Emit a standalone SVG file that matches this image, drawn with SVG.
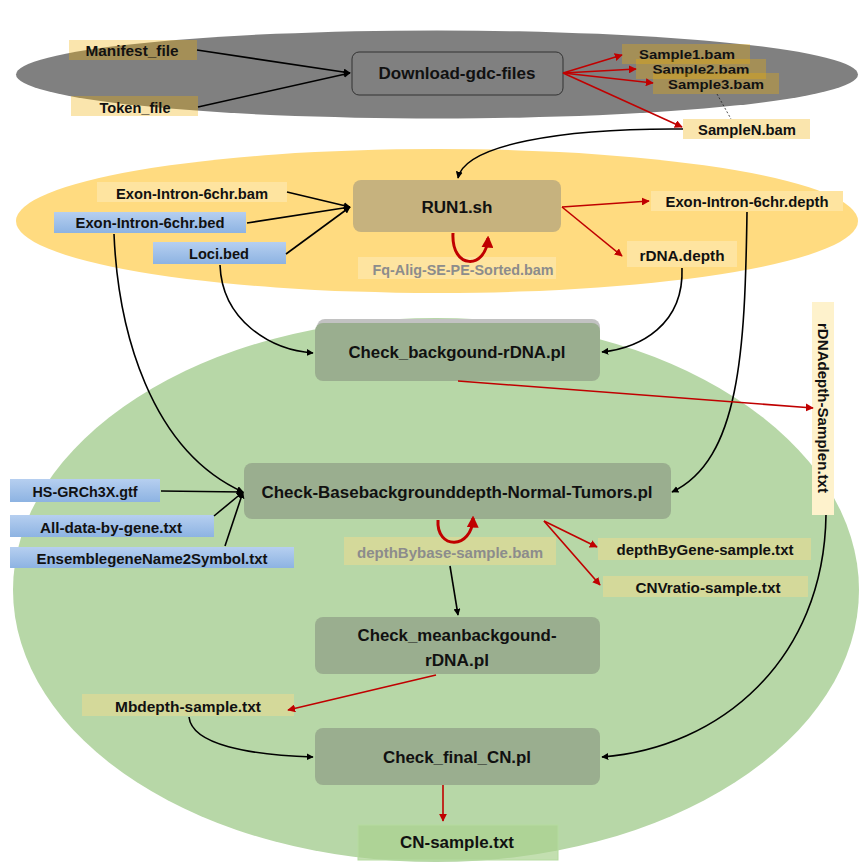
<svg xmlns="http://www.w3.org/2000/svg" width="867" height="867" viewBox="0 0 867 867">
<defs>
<marker id="ab" viewBox="0 0 10 10" refX="9" refY="5" markerWidth="7" markerHeight="7" markerUnits="userSpaceOnUse" orient="auto"><path d="M0,0 L10,5 L0,10 z" fill="#000"/></marker>
<marker id="ar" viewBox="0 0 10 10" refX="9" refY="5" markerWidth="8" markerHeight="8" markerUnits="userSpaceOnUse" orient="auto"><path d="M0,0 L10,5 L0,10 z" fill="#c00000"/></marker>
<marker id="arb" viewBox="0 0 10 10" refX="8" refY="5" markerWidth="12" markerHeight="12" markerUnits="userSpaceOnUse" orient="auto"><path d="M0,0 L10,5 L0,10 z" fill="#c00000"/></marker>
<style>
text{font-family:"Liberation Sans",Arial,sans-serif;font-weight:bold;font-size:15px;fill:#111;text-anchor:middle;dominant-baseline:central}
.big{font-size:16px}
.sm{font-size:13px}
.gt{fill:#8c8c8c}
.tl{fill:#efad00;fill-opacity:0.32}
.yl{fill:#fee4a0}
.bl{fill:url(#blue)}
.pb{fill:#9aae8f}
.k{fill:none;stroke:#000;stroke-width:1.6;marker-end:url(#ab)}
.r{fill:none;stroke:#c00000;stroke-width:1.6;marker-end:url(#ar)}
.rl{fill:none;stroke:#c00000;stroke-width:3;marker-end:url(#arb)}
</style>
<linearGradient id="blue" x1="0" y1="0" x2="0" y2="1"><stop offset="0" stop-color="#b6cff0"/><stop offset="1" stop-color="#8db3e2"/></linearGradient>
</defs>

<g id="regions">
<ellipse cx="437" cy="74.5" rx="421" ry="44" fill="#808080"/>
<ellipse cx="437" cy="221" rx="421" ry="72" fill="#ffdb80"/>
<ellipse cx="436" cy="590" rx="423" ry="272" fill="#b7d7a7"/>
</g>

<g id="manifest"><rect class="tl" x="69" y="40" width="128" height="20"/><text x="132" y="50" textLength="93" lengthAdjust="spacingAndGlyphs">Manifest_file</text></g>
<g id="token"><rect class="tl" x="71" y="96" width="127" height="20"/><text x="135" y="107" textLength="71" lengthAdjust="spacingAndGlyphs">Token_file</text></g>
<g id="download"><rect x="352" y="52" width="211" height="43" rx="7" fill="#808080" stroke="#333" stroke-width="1"/><text class="big" x="457" y="73" textLength="157" lengthAdjust="spacingAndGlyphs">Download-gdc-files</text></g>
<g id="sample1"><rect class="tl" x="622" y="44" width="128" height="20"/><text class="sm" x="687" y="54" textLength="96" lengthAdjust="spacingAndGlyphs">Sample1.bam</text></g>
<g id="sample2"><rect class="tl" x="636" y="59" width="130" height="20"/><text class="sm" x="701" y="69" textLength="97" lengthAdjust="spacingAndGlyphs">Sample2.bam</text></g>
<g id="sample3"><rect class="tl" x="653" y="73" width="126" height="21"/><text class="sm" x="716" y="84" textLength="96" lengthAdjust="spacingAndGlyphs">Sample3.bam</text></g>
<g id="sampleN"><rect class="tl" x="683" y="119" width="127" height="20"/><text x="747" y="129" textLength="98" lengthAdjust="spacingAndGlyphs">SampleN.bam</text></g>

<g id="exon-bam"><rect class="yl" x="97" y="182" width="190" height="20"/><text x="192" y="193" textLength="152" lengthAdjust="spacingAndGlyphs">Exon-Intron-6chr.bam</text></g>
<g id="exon-bed"><rect class="bl" x="54" y="212" width="192" height="21"/><text x="150" y="222" textLength="149" lengthAdjust="spacingAndGlyphs">Exon-Intron-6chr.bed</text></g>
<g id="loci"><rect class="bl" x="153" y="242" width="133" height="22"/><text x="219" y="253" textLength="60" lengthAdjust="spacingAndGlyphs">Loci.bed</text></g>
<g id="run1"><rect x="353" y="180" width="208" height="52" rx="8" fill="#c6b27e"/><text class="big" x="457" y="207" textLength="71" lengthAdjust="spacingAndGlyphs">RUN1.sh</text></g>
<g id="fq"><rect class="yl" x="358" y="257" width="198" height="22"/><text class="gt" x="463" y="269" textLength="181" lengthAdjust="spacingAndGlyphs">Fq-Alig-SE-PE-Sorted.bam</text></g>
<g id="exon-depth"><rect class="yl" x="651" y="191" width="192" height="20"/><text x="747" y="201" textLength="163" lengthAdjust="spacingAndGlyphs">Exon-Intron-6chr.depth</text></g>
<g id="rdna-depth"><rect class="yl" x="627" y="241" width="110" height="26"/><text x="682" y="255" textLength="85" lengthAdjust="spacingAndGlyphs">rDNA.depth</text></g>

<g id="check-backgound"><rect x="317" y="319" width="283" height="58" rx="8" fill="#c2c2c2"/><rect class="pb" x="315" y="323" width="285" height="58" rx="8"/><text class="big" x="457" y="352" textLength="217" lengthAdjust="spacingAndGlyphs">Check_backgound-rDNA.pl</text></g>
<g id="rdnadepth-samplen"><rect x="812" y="302" width="22" height="213" fill="#fef2cc"/><text x="823" y="408" transform="rotate(90 823 408)" textLength="170" lengthAdjust="spacingAndGlyphs">rDNAdepth-Samplen.txt</text></g>

<g id="check-base"><rect class="pb" x="244" y="463" width="427" height="56" rx="8"/><text class="big" x="457" y="492" textLength="391" lengthAdjust="spacingAndGlyphs">Check-Basebackgrounddepth-Normal-Tumors.pl</text></g>
<g id="hs-gtf"><rect class="bl" x="10" y="479" width="150" height="23"/><text x="85" y="491" textLength="105" lengthAdjust="spacingAndGlyphs">HS-GRCh3X.gtf</text></g>
<g id="all-data"><rect class="bl" x="10" y="515" width="204" height="22"/><text x="111" y="527" textLength="142" lengthAdjust="spacingAndGlyphs">All-data-by-gene.txt</text></g>
<g id="ensemble"><rect class="bl" x="10" y="547" width="284" height="21"/><text x="152" y="558" textLength="231" lengthAdjust="spacingAndGlyphs">EnsemblegeneName2Symbol.txt</text></g>
<g id="depthbybase"><rect x="344" y="537" width="212" height="28" fill="#d4d99a"/><text class="gt" x="450" y="552" textLength="186" lengthAdjust="spacingAndGlyphs">depthBybase-sample.bam</text></g>
<g id="depthbygene"><rect x="598" y="538" width="213" height="22" fill="#d4d99a"/><text x="705" y="549" textLength="177" lengthAdjust="spacingAndGlyphs">depthByGene-sample.txt</text></g>
<g id="cnvratio"><rect x="603" y="576" width="205" height="21" fill="#d4d99a"/><text x="708" y="587" textLength="145" lengthAdjust="spacingAndGlyphs">CNVratio-sample.txt</text></g>

<g id="check-mean"><rect class="pb" x="315" y="617" width="285" height="57" rx="8"/><text class="big" x="457" y="635" textLength="199" lengthAdjust="spacingAndGlyphs">Check_meanbackgound-</text><text class="big" x="457" y="660" textLength="64" lengthAdjust="spacingAndGlyphs">rDNA.pl</text></g>
<g id="mbdepth"><rect x="82" y="694" width="212" height="22" fill="#d4d99a"/><text x="188" y="706" textLength="146" lengthAdjust="spacingAndGlyphs">Mbdepth-sample.txt</text></g>
<g id="check-final"><rect class="pb" x="315" y="728" width="285" height="57" rx="8"/><text class="big" x="457" y="757" textLength="148" lengthAdjust="spacingAndGlyphs">Check_final_CN.pl</text></g>
<g id="cn-sample"><rect x="358" y="825" width="200" height="35" fill="#a9d18e" fill-opacity="0.7" stroke="#b5dba0" stroke-width="1"/><text class="big" x="457" y="842" textLength="114" lengthAdjust="spacingAndGlyphs">CN-sample.txt</text></g>

<g id="connectors">
<line class="k" x1="197" y1="50" x2="350" y2="73"/>
<line class="k" x1="198" y1="107" x2="350" y2="73"/>
<line class="r" x1="563" y1="73" x2="622" y2="55"/>
<line class="r" x1="563" y1="73" x2="636" y2="69"/>
<line class="r" x1="563" y1="73" x2="653" y2="83"/>
<line class="r" x1="563" y1="73" x2="682" y2="127"/>
<line x1="717" y1="94" x2="731" y2="119" stroke="#222" stroke-width="0.8" stroke-dasharray="2,2"/>
<path class="k" d="M683,129 C560,128 465,145 458,178"/>
<line class="k" x1="287" y1="192" x2="350" y2="207"/>
<line class="k" x1="247" y1="223" x2="350" y2="207"/>
<line class="k" x1="286" y1="254" x2="350" y2="207"/>
<line class="r" x1="562" y1="207" x2="649" y2="201"/>
<line class="r" x1="562" y1="207" x2="622" y2="256"/>
<path class="rl" d="M453,233 C451,270 486,270 488,238"/>
<path class="k" d="M220,265 C222,320 270,350 313,353"/>
<path class="k" d="M682,268 C684,325 640,348 602,352"/>
<path class="k" d="M114,234 C118,330 150,450 243,492"/>
<path class="k" d="M747,212 C745,350 740,460 672,492"/>
<line class="r" x1="458" y1="381" x2="813" y2="408"/>
<line class="k" x1="161" y1="491" x2="243" y2="492"/>
<line class="k" x1="214" y1="516" x2="243" y2="492"/>
<line class="k" x1="225" y1="546" x2="243" y2="492"/>
<path class="rl" d="M438,520 C436,550 472,550 473,518"/>
<line class="r" x1="544" y1="521" x2="597" y2="547"/>
<line class="r" x1="544" y1="521" x2="600" y2="585"/>
<line class="k" x1="450" y1="566" x2="458" y2="615"/>
<line class="r" x1="436" y1="675" x2="288" y2="710"/>
<path class="k" d="M826,515 C824,660 720,748 602,757"/>
<path class="k" d="M189,717 C192,745 250,755 313,757"/>
<line class="r" x1="443" y1="785" x2="443" y2="821"/>
</g>
</svg>
